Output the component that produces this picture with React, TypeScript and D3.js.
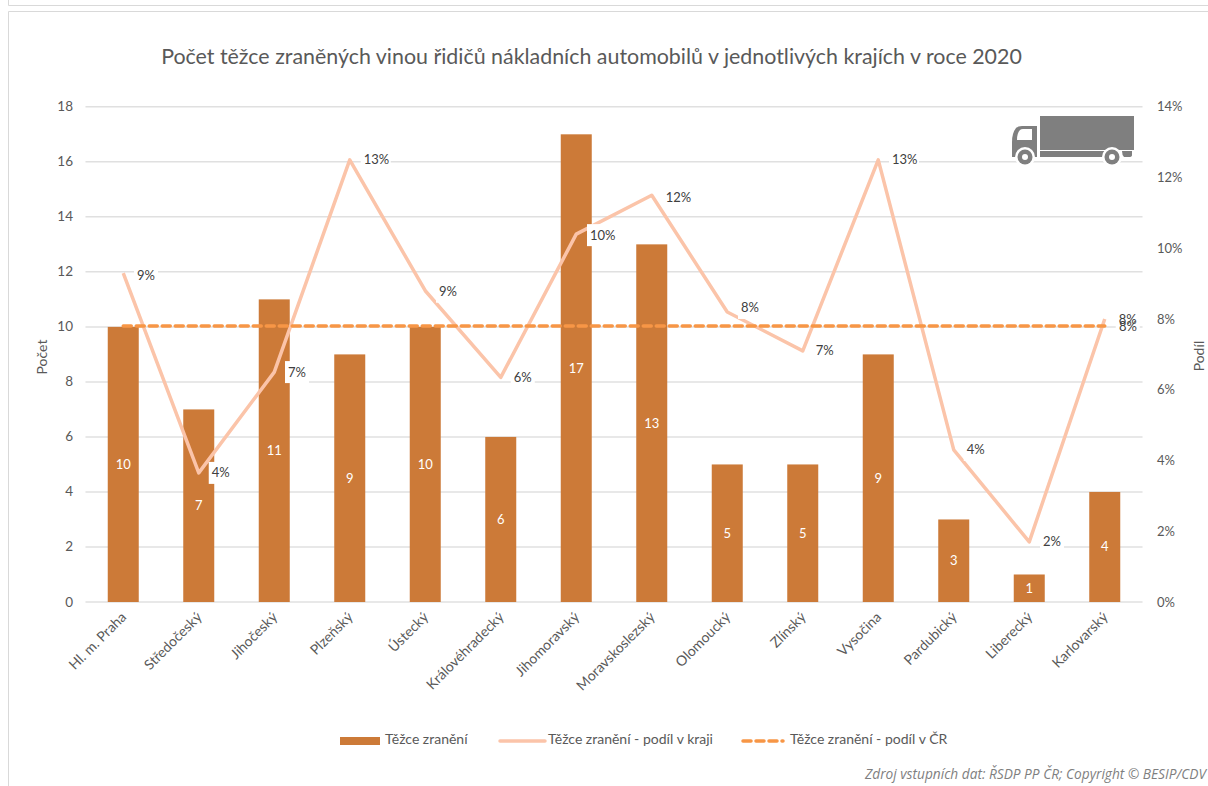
import React from "react";
import * as d3 from "d3";

const categories = ["Hl. m. Praha","Středočeský","Jihočeský","Plzeňský","Ústecký","Královéhradecký","Jihomoravský","Moravskoslezský","Olomoucký","Zlínský","Vysočina","Pardubický","Liberecký","Karlovarský"];
const injuries = [10,7,11,9,10,6,17,13,5,5,9,3,1,4];
const shareRegion = [9.3,3.65,6.5,12.5,8.8,6.35,10.4,11.5,8.2,7.1,12.5,4.3,1.7,8.0];
const shareCR = 7.8;
const leftTicks = [0,2,4,6,8,10,12,14,16,18];
const rightTicks = [0,2,4,6,8,10,12,14];
const labelDx = [10.75,10,10.75,11,10.75,10,10.75,11,10.75,10,10.75,10,10.75,11];
const labelDy = [2,0,0,0,1,0,1,2,-4,0,0,0,0,0];

const W = 1208, H = 786;
const FONT = "Lato, Carlito, sans-serif";
const TEXT = "#595959";
const BAR = "#CC7A38";
const LINE = "#FBC4A9";
const DASH = "#F79646";

const x = d3.scaleBand<string>().domain(categories).range([85.5, 1142.5]);
const yL = d3.scaleLinear().domain([0, 18]).range([602, 106.8]);
const yR = d3.scaleLinear().domain([0, 14]).range([602, 106.8]);
const cx = (c: string) => (x(c) as number) + x.bandwidth() / 2;
const barW = 31;

const regionLine = d3.line<number>().x((_, i) => cx(categories[i])).y(d => yR(d));

export default function App() {
  return (
    <svg width={W} height={H} viewBox={`0 0 ${W} ${H}`} style={{ position: "absolute", left: 0, top: 0, background: "#fff" }} fontFamily={FONT}>
      <path d="M8.5 0V5.5H1208" fill="none" stroke="#D9D9D9" />
      <path d="M8.5 786V11.5H1208" fill="none" stroke="#D9D9D9" />

      <text x={591.5} y={64} textAnchor="middle" fontSize={21.4} fill={TEXT}>
        Počet těžce zraněných vinou řidičů nákladních automobilů v jednotlivých krajích v roce 2020
      </text>

      {leftTicks.map(t => (
        <line key={t} x1={85.5} x2={1142.5} y1={yL(t)} y2={yL(t)} stroke="#E0E0E0" strokeWidth={1.5} />
      ))}
      {leftTicks.map(t => (
        <text key={t} x={73} y={yL(t) + 4.5} textAnchor="end" fontSize={13.5} fill={TEXT}>{t}</text>
      ))}
      {rightTicks.map(t => (
        <text key={t} x={1157} y={yR(t) + 4.5} fontSize={13} fill={TEXT}>{t}%</text>
      ))}
      <text transform="translate(47,357) rotate(-90)" textAnchor="middle" fontSize={14} fill={TEXT}>Počet</text>
      <text transform="translate(1204,356) rotate(-90)" textAnchor="middle" fontSize={14} fill={TEXT}>Podíl</text>

      {/* truck */}
      <g fill="#7F7F7F">
        <rect x={1040} y={116} width={94} height={34} />
        <rect x={1040} y={151} width={66} height={6} />
        <path d="M1122 151H1132V155Q1132 157 1129 157H1124Q1122 155 1122 151Z" />
        <path d="M1012 157V142Q1012 133 1016 128Q1018 126 1022 126H1037V157Z" />
      </g>
      <path d="M1017 140Q1017 133 1020 130Q1021 129 1023 129H1032V140Z" fill="#fff" />
      <circle cx={1025} cy={157} r={10} fill="#fff" />
      <circle cx={1112} cy={157} r={10} fill="#fff" />
      <circle cx={1025} cy={157} r={7.5} fill="#7F7F7F" />
      <circle cx={1112} cy={157} r={7.5} fill="#7F7F7F" />
      <circle cx={1025} cy={157} r={3} fill="#fff" />
      <circle cx={1112} cy={157} r={3} fill="#fff" />

      {categories.map(c => (
        <text key={c} transform={`translate(${cx(c) + 4},${618}) rotate(-45)`} textAnchor="end" fontSize={14} fill={TEXT}>{c}</text>
      ))}

      {categories.map((c, i) => (
        <rect key={c} x={cx(c) - barW / 2} y={yL(injuries[i])} width={barW} height={yL(0) - yL(injuries[i])} fill={BAR} />
      ))}
      {categories.map((c, i) => (
        <text key={c} x={cx(c)} y={(yL(injuries[i]) + yL(0)) / 2 + 4.5} textAnchor="middle" fontSize={13} fill="#fff">{injuries[i]}</text>
      ))}

      <path d={regionLine(shareRegion) as string} fill="none" stroke={LINE} strokeWidth={3.5} strokeLinejoin="round" />
      <line x1={cx(categories[0])} x2={cx(categories[13])} y1={yR(shareCR)} y2={yR(shareCR)} stroke={DASH} strokeWidth={3.5} strokeDasharray="8 5" strokeLinecap="round" />

      {categories.map((c, i) => {
        const lx = cx(c) + labelDx[i];
        const ly = yR(shareRegion[i]) + labelDy[i];
        const label = `${Math.round(shareRegion[i])}%`;
        const w = label.length > 2 ? 30 : 24;
        return (
          <g key={c}>
            <rect x={lx} y={ly - 11} width={w} height={22} fill="#fff" />
            <text x={lx + 3} y={ly + 4.5} fontSize={13} fill="#404040">{label}</text>
          </g>
        );
      })}
      <text x={1119} y={yR(shareCR) + 5} fontSize={13} fill="#404040">{`${Math.round(shareCR)}%`}</text>

      <rect x={340} y={737} width={40} height={8} fill={BAR} />
      <text x={385} y={744} fontSize={14} fill={TEXT}>Těžce zranění</text>
      <line x1={500} x2={545} y1={741} y2={741} stroke={LINE} strokeWidth={3.5} strokeLinecap="round" />
      <text x={548} y={744} fontSize={14} fill={TEXT}>Těžce zranění - podíl v kraji</text>
      <line x1={743} x2={783} y1={741} y2={741} stroke={DASH} strokeWidth={3.5} strokeDasharray="8 5" strokeLinecap="round" />
      <text x={790} y={744} fontSize={14} fill={TEXT}>Těžce zranění - podíl v ČR</text>

      <text x={1206} y={779} textAnchor="end" fontSize={13.7} fontStyle="italic" fill="#7F7F7F" fontFamily="'Open Sans', sans-serif">
        Zdroj vstupních dat: ŘSDP PP ČR; Copyright © BESIP/CDV
      </text>
    </svg>
  );
}
